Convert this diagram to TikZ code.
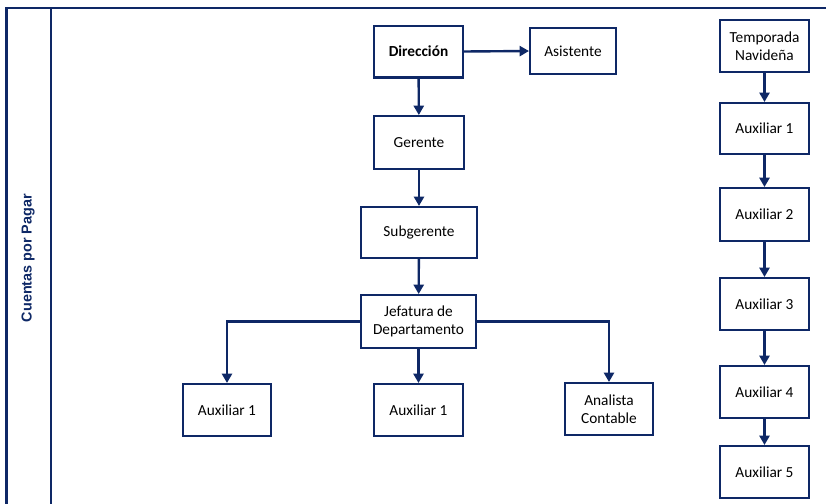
\documentclass[tikz,border=0pt]{standalone}
\usepackage{fontspec}
\setmainfont{Carlito}
\newfontfamily\lanefont{Liberation Sans}
\usetikzlibrary{arrows.meta}
\definecolor{navy}{RGB}{14,40,102}
\begin{document}
\begin{tikzpicture}[x=0.75pt,y=-0.75pt,
  box/.style={draw=navy, line width=1.6pt, fill=white, align=center,
    inner sep=0pt, font=\fontsize{11.5}{13.5}\selectfont,
    minimum width=66.6pt, minimum height=38.9pt},
  link/.style={draw=navy, line width=1.8pt,
    -{Triangle[width=7.5pt,length=7pt]}},
  pool/.style={draw=navy, line width=1.9pt}]
\useasboundingbox (0,0) rectangle (826,504);

% pool frame and lane divider
\draw[pool] (6.5,505) -- (6.5,8) -- (827,8);
\draw[pool] (51,8) -- (51,505);
\node[rotate=90, text=navy, font=\lanefont\bfseries\fontsize{10.8}{12}\selectfont]
  (lane) at (28,258) {Cuentas por Pagar};

% main hierarchy
\node[box, font=\bfseries\fontsize{11.5}{13.5}\selectfont] (dir) at (418.5,51.5) {Dirección};
\node[box, minimum width=64.4pt, minimum height=34.4pt] (asis) at (573,51) {Asistente};
\node[box, minimum width=67.4pt, minimum height=39.6pt] (ger) at (419,142.5) {Gerente};
\node[box, minimum width=86.9pt, minimum height=38.2pt] (sub) at (419,232.5) {Subgerente};
\node[box, minimum width=86.2pt, minimum height=39.6pt] (jef) at (418.5,321.5) {Jefatura de\\Departamento};
\node[box, minimum width=65.9pt] (auxa) at (227,410) {Auxiliar 1};
\node[box] (auxb) at (418.5,410) {Auxiliar 1};
\node[box, minimum width=65.9pt] (ana) at (609,409) {Analista\\Contable};

% seasonal staff column
\node[box] (temp) at (764.5,46) {Temporada\\Navideña};
\node[box, minimum height=38.2pt] (r1) at (764.5,128.5) {Auxiliar 1};
\node[box, minimum height=39.6pt] (r2) at (764.5,214.5) {Auxiliar 2};
\node[box] (r3) at (764.5,304) {Auxiliar 3};
\node[box] (r4) at (764.5,392) {Auxiliar 4};
\node[box] (r5) at (764.5,472) {Auxiliar 5};

% connectors
\draw[link] (dir.east) -- (asis.west);
\draw[link] (dir) -- (ger);
\draw[link] (ger) -- (sub);
\draw[link] (sub) -- (jef);
\draw[link] (jef) -- (auxb);
\draw[link] (jef.west) -| (auxa.north);
\draw[link] (jef.east) -| (ana.north);
\draw[link] (temp) -- (r1);
\draw[link] (r1) -- (r2);
\draw[link] (r2) -- (r3);
\draw[link] (r3) -- (r4);
\draw[link] (r4) -- (r5);
\end{tikzpicture}
\end{document}
